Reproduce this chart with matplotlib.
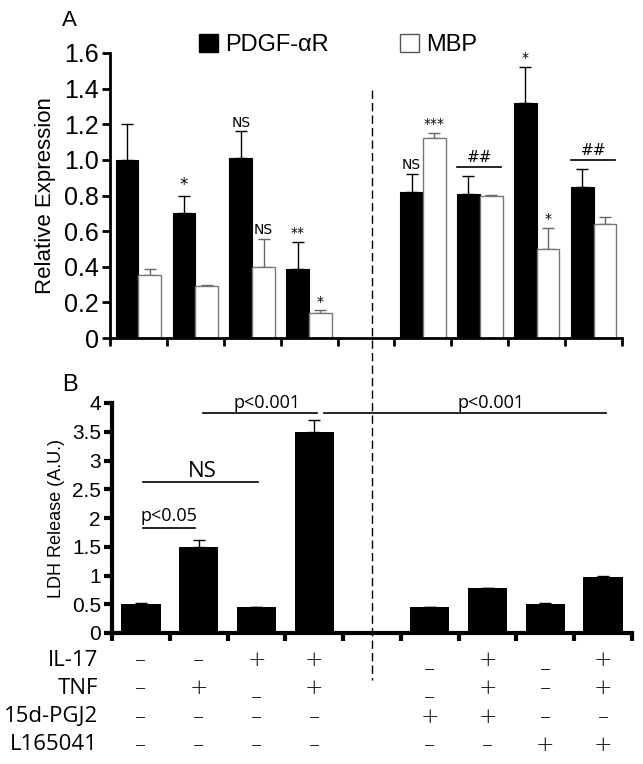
import numpy as np
import matplotlib
matplotlib.use("Agg")
import matplotlib.pyplot as plt
from matplotlib.lines import Line2D
from matplotlib.patches import Patch

plt.rcParams['font.family'] = ['Liberation Sans', 'DejaVu Sans']

# ---- data, panel A (relative expression) ----
n_groups = 9
pdgf = [1.00, 0.70, 1.01, 0.39, np.nan, 0.82, 0.81, 1.32, 0.85]
pdgf_err = [0.20, 0.10, 0.15, 0.15, np.nan, 0.10, 0.10, 0.20, 0.10]
mbp = [0.355, 0.29, 0.40, 0.14, np.nan, 1.12, 0.80, 0.50, 0.64]
mbp_err = [0.03, 0.005, 0.155, 0.015, np.nan, 0.03, 0.005, 0.12, 0.04]
pdgf_marks = ['', '*', 'NS', '**', '', 'NS', '', '*', '']
mbp_marks = ['', '', 'NS', '*', '', '***', '', '*', '']
hash_groups = [6, 8]

# ---- data, panel B (LDH release) ----
ldh = [0.50, 1.50, 0.45, 3.50, np.nan, 0.45, 0.78, 0.50, 0.98]
ldh_err = [0.03, 0.12, 0.0, 0.20, np.nan, 0.0, 0.0, 0.03, 0.01]

# treatment table
row_labels = ['IL-17', 'TNF', '15d-PGJ2', 'L165041']
treat = [
    ['–', '–', '+', '+', '', '–', '+', '–', '+'],
    ['–', '+', '–', '+', '', '–', '+', '–', '+'],
    ['–', '–', '–', '–', '', '+', '+', '–', '–'],
    ['–', '–', '–', '–', '', '–', '–', '+', '+'],
]
lowered = {(0, 5), (0, 7), (1, 2), (1, 5)}

W, H = 643, 764
fig = plt.figure(figsize=(W / 100, H / 100), dpi=100)

x = np.arange(n_groups)

# ---------------- panel A ----------------
axA = fig.add_axes([110 / W, 1 - 338 / H, 512 / W, 285 / H])
bw = 0.4
axA.bar(x - 0.2, pdgf, bw, color='black', edgecolor='black', linewidth=0.8, zorder=2)
axA.bar(x + 0.2, mbp, bw, color='white', edgecolor='#777777', linewidth=1.0, zorder=2)
axA.errorbar(x - 0.2, pdgf, yerr=[np.zeros(n_groups), pdgf_err], fmt='none',
             ecolor='black', elinewidth=1, capsize=4, capthick=1, zorder=1)
axA.errorbar(x + 0.2, mbp, yerr=[np.zeros(n_groups), mbp_err], fmt='none',
             ecolor='#666666', elinewidth=1, capsize=4, capthick=1, zorder=1)

for i in range(n_groups):
    if pdgf_marks[i]:
        big = pdgf_marks[i] == '*' and i == 1
        axA.text(i - 0.2, pdgf[i] + pdgf_err[i] + 0.01, pdgf_marks[i], ha='center',
                 va='bottom', fontsize=12 if big else 10, family='DejaVu Sans')
    if mbp_marks[i]:
        axA.text(i + 0.2, mbp[i] + mbp_err[i] + 0.01, mbp_marks[i], ha='center',
                 va='bottom', fontsize=10, family='DejaVu Sans')
for g in hash_groups:
    top = max(pdgf[g] + pdgf_err[g], mbp[g] + mbp_err[g]) + 0.05
    axA.plot([g - 0.4, g + 0.38], [top, top], color='black', lw=1.2)
    axA.text(g, top + 0.01, '##', ha='center', va='bottom', fontsize=11, family='DejaVu Sans')

axA.set_xlim(-0.5, n_groups - 0.5)
axA.set_ylim(0, 1.6)
axA.set_yticks(np.arange(0, 1.61, 0.2))
axA.set_yticklabels(['0'] + ['%.1f' % v for v in np.arange(0.2, 1.61, 0.2)], fontsize=18)
axA.set_xticks(np.arange(-0.5, n_groups, 1.0))
axA.set_xticklabels([])
axA.set_ylabel('Relative Expression', fontsize=16, labelpad=6)
for s in ['top', 'right']:
    axA.spines[s].set_visible(False)
for s in ['left', 'bottom']:
    axA.spines[s].set_linewidth(2)
axA.tick_params(axis='both', direction='out', width=2, length=6, pad=2)

fig.text(62 / W, 1 - 20 / H, 'A', fontsize=16, va='center')
fig.legend(handles=[Patch(facecolor='black', edgecolor='black'),
                    Patch(facecolor='white', edgecolor='#555555')],
           labels=['PDGF-αR', 'MBP'], loc='center', ncol=2, frameon=False,
           bbox_to_anchor=(338 / W, 1 - 45 / H), fontsize=17, handlelength=0.8,
           handleheight=0.8, handletextpad=0.3, columnspacing=3.0)

# ---------------- panel B ----------------
axB = fig.add_axes([112 / W, 1 - 633 / H, 520 / W, 230 / H])
axB.bar(x, ldh, 0.68, color='black', zorder=2)
axB.errorbar(x, ldh, yerr=[np.zeros(n_groups), ldh_err], fmt='none', ecolor='black',
             elinewidth=1, capsize=4, capthick=1, zorder=1)

def bracket(x0, x1, y, label, ty, size):
    axB.plot([x0, x1], [y, y], color='black', lw=1.2, clip_on=False)
    axB.text(ty[0], ty[1], label, ha='center', va='bottom', fontsize=size,
             family='Open Sans', clip_on=False)

bracket(0.04, 0.94, 1.83, 'p<0.05', (0.49, 1.88), 13)
bracket(0.04, 2.03, 2.63, 'NS', (1.06, 2.62), 16)
bracket(1.07, 3.05, 3.83, 'p<0.001', (2.18, 3.84), 13)
bracket(3.17, 8.05, 3.83, 'p<0.001', (6.06, 3.84), 13)

axB.set_xlim(-0.5, n_groups - 0.5)
axB.set_ylim(0, 4)
axB.set_yticks(np.arange(0, 4.01, 0.5))
axB.set_yticklabels(['%g' % v for v in np.arange(0, 4.01, 0.5)], fontsize=15)
axB.set_xticks(np.arange(-0.5, n_groups, 1.0))
axB.set_xticklabels([])
axB.set_ylabel('LDH Release (A.U.)', fontsize=13, labelpad=5)
for s in ['top', 'right']:
    axB.spines[s].set_visible(False)
for s in ['left', 'bottom']:
    axB.spines[s].set_linewidth(3)
axB.tick_params(axis='both', direction='out', width=3, length=6, pad=2)
fig.text(62 / W, 1 - 385 / H, 'B', fontsize=17, va='center')

# treatment table under panel B
row_y = [660, 688, 717, 745]
for r, lab in enumerate(row_labels):
    fig.text(98 / W, 1 - row_y[r] / H, lab, ha='right', va='center', fontsize=16,
             family='Open Sans')
    for c, sym in enumerate(treat[r]):
        if not sym:
            continue
        yy = row_y[r] + (9 if (r, c) in lowered else 0)
        px = axB.transData.transform((c, 0))[0]
        fig.text(px / W, 1 - yy / H, sym, ha='center', va='center', fontsize=16,
                 family='DejaVu Sans', fontweight='light')

# dashed separator across both panels
fig.add_artist(Line2D([372 / W, 372 / W], [1 - 90 / H, 1 - 680 / H], color='black',
                      lw=1, linestyle=(0, (6, 3))))

fig.savefig('out.png', dpi=100)
